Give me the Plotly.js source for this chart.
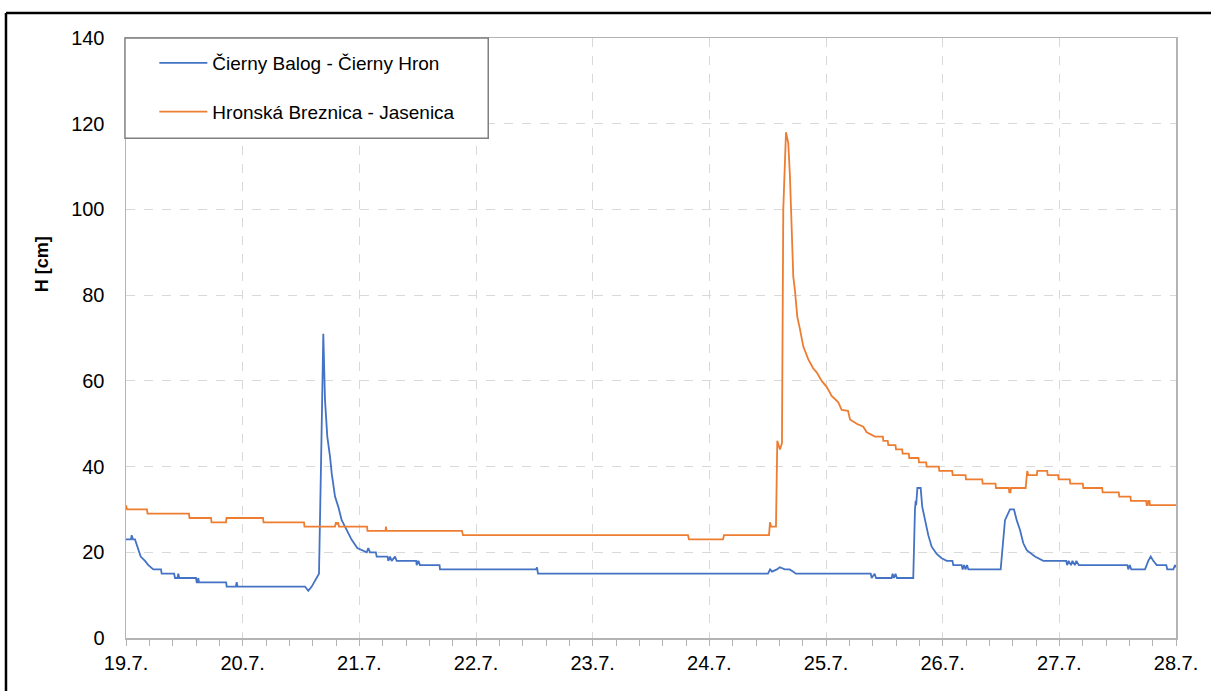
<!DOCTYPE html>
<html>
<head>
<meta charset="utf-8">
<script src="https://cdn.plot.ly/plotly-3.0.1.min.js"></script>
<style>html,body{margin:0;padding:0;background:#fff;}#chart{width:1211px;height:691px;}</style>
</head>
<body>
<div id="chart"></div>
<script>
// Start of the time axis and hours elapsed for each reading
var startDate = Date.UTC(2021, 6, 19, 0, 0, 0);

var seriesNames = ["Čierny Balog - Čierny Hron", "Hronská Breznica - Jasenica"];

// Čierny Balog - Čierny Hron
var blueHours = [0, 1.03, 1.17, 1.44, 1.85, 2.53, 3.02, 3.91, 4.59, 5.62, 7.2, 7.34, 9.9, 10.08, 10.6, 10.76, 10.95, 14.4, 14.54, 14.75, 14.87, 15.0, 20.6, 20.71, 22.6, 22.77, 22.95,
  36.82, 37.5, 38.2, 39.23, 39.7, 40.11, 40.59, 40.94, 41.41, 41.97, 42.32, 43.0, 43.68, 44.37, 45.4, 46.43, 47.58, 49.52, 49.84, 50.19, 51.4, 51.57,
  53.8, 53.96, 54.31, 54.66, 55.34, 55.68, 59.7, 59.8, 60.15, 60.48, 64.5, 64.59,
  84.34, 84.55, 84.75, 132.07, 132.5, 132.9, 133.9, 134.5, 135.5, 136.5, 137.2, 137.8,
  153.2, 153.4, 154.0, 154.3, 157.5, 157.7, 158.0, 158.3, 158.6, 161.95, 162.3, 162.45, 162.55, 162.8, 162.98, 163.47, 163.8, 164.36, 165.04, 165.74, 166.77, 167.8, 168.83, 170.0, 170.19,
  171.9, 172.1, 172.4, 172.7, 173.0, 173.3, 173.8, 173.97, 179.93, 180.82, 181.85, 182.67, 183.23, 183.91, 184.59, 185.29, 186.99, 188.7,
  193.4, 193.6, 193.9, 194.4, 194.7, 195.2, 195.5, 196.0, 196.25, 206.0, 206.18, 206.5, 206.8, 207.1, 209.62, 210.3, 210.8, 211.33, 212.03, 214.0, 214.21, 215.45, 215.8, 216];
var blueLevel = [23, 23, 24, 23, 23, 20.5, 19, 18, 17, 16, 16, 15, 15, 14, 14, 15, 14, 14, 13, 13, 14, 13, 13, 12, 12, 13, 12,
  12, 11, 12, 14, 15, 40, 71, 55.5, 47, 42.3, 38.4, 33, 30.6, 27.5, 25.2, 22.9, 21, 20, 21, 20, 20, 19,
  19, 18, 19, 18, 19, 18, 18, 17, 18, 17, 17, 16,
  16, 16.5, 15, 15, 16, 15.5, 16, 16.5, 16, 16, 15.5, 15,
  15, 14, 15, 14, 14, 15, 14, 15, 14, 14, 30, 32, 31, 35, 35, 35, 30.6, 27.5, 24, 21.3, 19.6, 18.6, 18, 18, 17,
  17, 16, 17, 16, 17, 16, 16, 16, 16, 27.5, 30, 30, 27.5, 25.2, 22.1, 20.5, 19, 18,
  18, 17, 18, 17, 18, 17, 18, 17, 17, 17, 16, 17, 16, 16, 16, 18, 19, 18, 17, 17, 16, 16, 17, 16.5];

// Hronská Breznica - Jasenica
var orangeHours = [0, 0.21, 4.32, 4.42, 12.96, 13.06, 17.49, 17.59, 20.57, 20.67, 28.18, 28.29, 36.62, 36.72,
  42.99, 43.2, 43.41, 43.61, 43.82, 49.58, 49.68, 53.38, 53.49, 53.59, 69.12, 69.32, 115.61, 115.81, 122.81, 123.02,
  132.28, 132.48, 132.69, 133.71, 133.98, 134.53, 134.94, 135.09, 135.21, 135.77, 136.24, 136.59, 136.94, 137.27, 137.62, 138.09, 138.65, 139.33,
  140.36, 141.32, 142.08, 143.11, 144.14, 145.17, 146.53, 147.23, 148.53, 148.94, 150.32, 151.67, 152.37,
  154.08, 155.7, 155.79, 156.7, 156.82, 158.3, 158.4, 159.67, 159.77, 161.03, 161.13, 163.03, 163.13, 164.61, 164.71,
  167.21, 167.31, 169.96, 170.06, 172.7, 172.8, 176.13, 176.23, 178.87, 178.97, 181.61, 181.71, 181.95, 182.05,
  185.07, 185.4, 185.61, 187.37, 187.47, 189.5, 189.6, 191.76, 191.86, 194.15, 194.25, 196.83, 196.93,
  200.81, 200.91, 204.23, 204.33, 206.63, 206.73, 209.87, 209.97, 210.2, 210.3, 210.55, 210.65, 216];
var orangeLevel = [31, 30, 30, 29, 29, 28, 28, 27, 27, 28, 28, 27, 27, 26,
  26, 27, 26.5, 27, 26, 26, 25, 25, 26, 25, 25, 24, 24, 23, 23, 24,
  24, 27, 26, 26, 46, 44, 45.5, 76, 100, 118, 115.5, 107.6, 96, 84.3, 81, 75, 72, 68,
  65, 63, 62, 60, 58.6, 56.5, 55, 53.2, 53, 51, 50, 49.3, 48,
  47, 47, 46, 46, 45, 45, 44, 44, 43, 43, 42, 42, 41, 41, 40,
  40, 39, 39, 38, 38, 37, 37, 36, 36, 35, 35, 34, 34, 35,
  35, 39, 38, 38, 39, 39, 38, 38, 37, 37, 36, 36, 35,
  35, 34, 34, 33, 33, 32, 32, 31, 31, 32, 32, 31, 31];

var yTicks = [0, 20, 40, 60, 80, 100, 120, 140];

function toDate(h) {
  return new Date(startDate + h * 3600000).toISOString().slice(0, 19).replace('T', ' ');
}

var traces = [
  {x: blueHours.map(toDate), y: blueLevel, name: seriesNames[0], type: 'scatter', mode: 'lines',
   line: {color: '#4472C4', width: 1.8}, legendgroup: 'a'},
  {x: orangeHours.map(toDate), y: orangeLevel, name: seriesNames[1], type: 'scatter', mode: 'lines',
   line: {color: '#ED7D31', width: 1.8}, legendgroup: 'b'}
];

var font = 'Arial, "Liberation Sans", sans-serif';
var layout = {
  width: 1211, height: 691,
  margin: {l: 126, r: 35, t: 38, b: 53},
  paper_bgcolor: '#ffffff', plot_bgcolor: '#ffffff',
  font: {family: font, size: 19, color: '#000'},
  showlegend: true,
  legend: {x: 0.027, y: 0.99, xanchor: 'left', yanchor: 'top', bgcolor: 'rgba(0,0,0,0)', borderwidth: 0,
    font: {family: font, size: 19, color: '#000'}, tracegroupgap: 21, itemwidth: 48,
    traceorder: 'grouped'},
  xaxis: {type: 'date', range: [toDate(0), toDate(216)], dtick: 86400000, tick0: toDate(0),
    tickformat: '%-d.%-m.', showgrid: true, gridcolor: '#d9d9d9', griddash: 'dash', gridwidth: 1,
    showline: true, linecolor: '#b4b4b4', linewidth: 1.5, mirror: true,
    ticks: 'outside', ticklen: 6, tickcolor: '#b4b4b4', tickwidth: 1,
    minor: {dtick: 17280000, ticks: 'outside', ticklen: 6, tickcolor: '#b4b4b4', showgrid: false},
    tickfont: {family: font, size: 20, color: '#000'}, zeroline: false, fixedrange: true},
  yaxis: {range: [0, 140], tickvals: yTicks, showgrid: true, gridcolor: '#d9d9d9', griddash: 'dash', gridwidth: 1,
    showline: true, linecolor: '#b4b4b4', linewidth: 1.5, mirror: true,
    ticks: 'outside', ticklen: 16, tickcolor: 'rgba(0,0,0,0)',
    tickfont: {family: font, size: 20, color: '#000'}, zeroline: false, fixedrange: true},
  annotations: [
    {text: '<b>H [cm]</b>', xref: 'paper', yref: 'paper', x: -0.08, y: 0.623, textangle: -90,
     showarrow: false, font: {family: font, size: 18, color: '#000'}, xanchor: 'center', yanchor: 'middle'}
  ],
  shapes: [
    {type: 'rect', xref: 'paper', yref: 'paper', x0: -0.001, x1: 0.345, y0: 0.833, y1: 1.0,
     line: {color: '#7f7f7f', width: 1.5}, fillcolor: 'rgba(255,255,255,1)', layer: 'above'},
    {type: 'line', xref: 'paper', yref: 'paper', x0: -0.1143, x1: -0.1143, y0: 1.0417, y1: -0.1, line: {color: '#000', width: 2.5}},
    {type: 'line', xref: 'paper', yref: 'paper', x0: -0.1143, x1: 1.04, y0: 1.0417, y1: 1.0417, line: {color: '#000', width: 2.5}}
  ]
};

Plotly.newPlot('chart', traces, layout, {displayModeBar: false, staticPlot: true});
</script>
</body>
</html>
